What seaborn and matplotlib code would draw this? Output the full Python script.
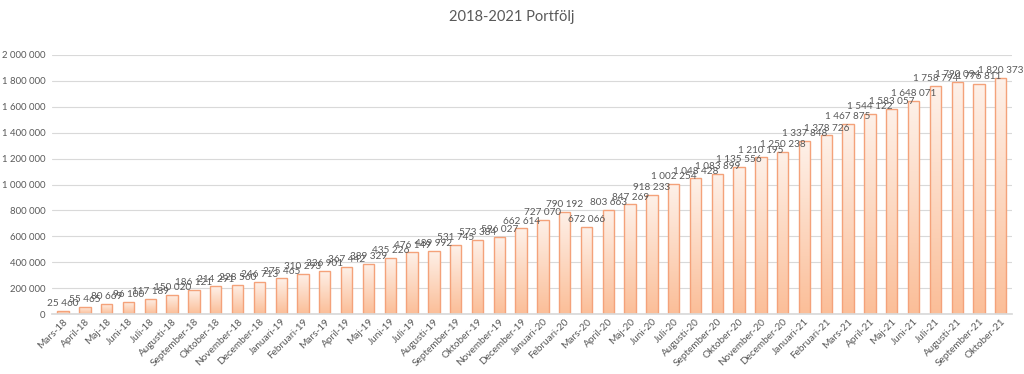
import numpy as np
import pandas as pd
import matplotlib
matplotlib.use("Agg")
import matplotlib.pyplot as plt
import seaborn as sns

# Monthly portfolio values, Mars-18 .. Oktober-21
months = [
    "Mars-18", "April-18", "Maj-18", "Juni-18", "Juli-18", "Augusti-18",
    "September-18", "Oktober-18", "November-18", "December-18",
    "Januari-19", "Februari-19", "Mars-19", "April-19", "Maj-19", "Juni-19",
    "Juli-19", "Augusti-19", "September-19", "Oktober-19", "November-19", "December-19",
    "Januari-20", "Februari-20", "Mars-20", "April-20", "Maj-20", "Juni-20",
    "Juli-20", "Augusti-20", "September-20", "Oktober-20", "November-20", "December-20",
    "Januari-21", "Februari-21", "Mars-21", "April-21", "Maj-21", "Juni-21",
    "Juli-21", "Augusti-21", "September-21", "Oktober-21",
]
values = [
    25460, 55465, 80669, 96100, 117189, 150020,
    186121, 214291, 228560, 246713,
    275465, 310293, 336901, 367442, 389329, 435226,
    476149, 489992, 531745, 573384, 596027, 662614,
    727070, 790192, 672066, 803663, 847269, 918233,
    1002254, 1048428, 1083899, 1135556, 1210195, 1250238,
    1337848, 1378726, 1467875, 1544122, 1583057, 1648071,
    1758794, 1790094, 1776811, 1820373,
]
yticks = list(range(0, 2000001, 200000))

df = pd.DataFrame({"month": months, "value": values})

sns.set_theme(style="white")
plt.rcParams["font.family"] = ["Lato", "DejaVu Sans"]
gray = "#595959"

fig = plt.figure(figsize=(10.24, 3.74), dpi=100)
ax = fig.add_axes([0.051, 0.160, 0.937, 0.693])

sns.barplot(data=df, x="month", y="value", color="#FBC09C", width=0.52,
            edgecolor="#F4A27A", linewidth=1.0, ax=ax, zorder=2)

# per-bar vertical gradient (light top -> orange bottom)
grad = np.linspace(0, 1, 256).reshape(-1, 1)
cmap = matplotlib.colors.LinearSegmentedColormap.from_list(
    "peach", ["#FEF1E9", "#FBBE98"])
for p in ax.patches:
    x, w, h = p.get_x(), p.get_width(), p.get_height()
    im = ax.imshow(grad, extent=[x, x + w, 0, h], aspect="auto",
                   cmap=cmap, origin="upper", zorder=2.1)
    im.set_clip_path(p)
    p.set_facecolor("none")
    p.set_zorder(2.2)

ax.bar_label(ax.containers[0], fmt=lambda v: f"{v:,.0f}".replace(",", " "),
             padding=2, fontsize=7.2, color=gray, zorder=3)

ax.set_xlim(-0.5, len(months) - 0.5)
ax.set_ylim(0, 2000000)
ax.set_yticks(yticks)
ax.set_yticklabels([f"{t:,}".replace(",", " ") for t in yticks])
ax.yaxis.grid(True, color="#D9D9D9", linewidth=0.8, zorder=0)
ax.set_axisbelow(True)
for s in ["top", "right", "left"]:
    ax.spines[s].set_visible(False)
ax.spines["bottom"].set_color("#D9D9D9")
ax.tick_params(axis="y", labelsize=6.9, colors=gray, length=0, pad=5)
ax.tick_params(axis="x", labelsize=7.2, colors=gray, length=0, pad=2)
plt.setp(ax.get_xticklabels(), rotation=45, ha="right", rotation_mode="anchor")
ax.set_xlabel("")
ax.set_ylabel("")

fig.text(0.5, 0.955, "2018-2021 Portfölj", ha="center", va="center",
         fontsize=10.5, color=gray)

fig.savefig("out.png", dpi=100, facecolor="white")
